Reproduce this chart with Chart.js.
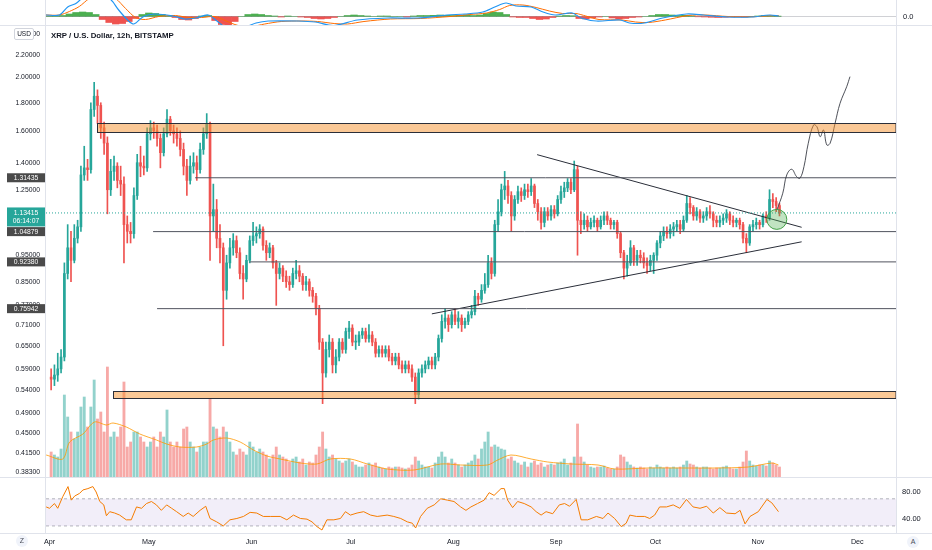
<!DOCTYPE html>
<html>
<head>
<meta charset="utf-8">
<title>XRP / U.S. Dollar, 12h, BITSTAMP</title>
<script src="https://cdn.jsdelivr.net/npm/chart.js@4.4.1/dist/chart.umd.min.js"></script>
<style>
  html, body { margin: 0; padding: 0; background: #fff; }
  body { width: 932px; height: 550px; position: relative; overflow: hidden;
         font-family: 'Liberation Sans', Arial, sans-serif; color: #131722; }
  canvas { position: absolute; left: 0; }
  #macd { top: 0; }
  #price { top: 26px; }
  #rsi { top: 477px; }
  .hline { position: absolute; left: 0; width: 932px; height: 1px; background: #e0e3eb; }
  .vline { position: absolute; top: 0; width: 1px; height: 533px; background: #e0e3eb; }
  .title { position: absolute; left: 51px; top: 31px; font-size: 7.8px; font-weight: bold; white-space: nowrap; }
  .usd { position: absolute; left: 14px; top: 28px; width: 18px; height: 10px; background: #fff;
         border: 1px solid #d1d4dc; border-radius: 2px; font-size: 6.5px; line-height: 10px; text-align: center; }
  .icon { position: absolute; width: 12px; height: 12px; border-radius: 50%; background: #f0f3fa;
          color: #4a4e59; font-size: 7px; line-height: 12px; text-align: center; }
</style>
</head>
<body>
<canvas id="macd" width="932" height="25"></canvas>
<canvas id="price" width="932" height="451"></canvas>
<canvas id="rsi" width="932" height="73"></canvas>
<div class="hline" style="top:25px"></div>
<div class="hline" style="top:477px"></div>
<div class="hline" style="top:533px"></div>
<div class="vline" style="left:45px"></div>
<div class="vline" style="left:896px"></div>
<div class="title">XRP / U.S. Dollar, 12h, BITSTAMP</div>
<div class="usd">USD</div>
<div class="icon" style="left:16px;top:535px">Z</div>
<div class="icon" style="left:907px;top:536px">A</div>
<script>
// daily candles, Apr 1 (day 0) .. Nov 7 (day 220)
const opens = [
  0.57,0.565,0.575,0.59,0.62,0.88,0.98,0.93,1.02,1.07, 1.33,1.37,1.36,1.75,1.85,1.78,1.62,1.52,1.25,1.35, 1.38,1.30,1.28,1.08,1.05,1.04,1.22,1.40,1.38,1.37,
  1.58,1.62,1.60,1.55,1.46,1.58,1.68,1.60,1.58,1.55, 1.48,1.38,1.30,1.38,1.40,1.36,1.48,1.58,1.65,1.12, 1.15,1.02,0.98,0.82,0.92,0.98,1.01,0.96,0.88,0.86, 0.93,
  1.01,1.03,1.04,1.06,0.99,0.96,0.98,0.92,0.88,0.90, 0.87,0.85,0.84,0.88,0.89,0.87,0.84,0.85,0.82,0.80, 0.76,0.66,0.58,0.64,0.66,0.60,0.62,0.66,0.64,0.69,
  0.70,0.66,0.66,0.68,0.69,0.67,0.68,0.66,0.63,0.64, 0.63,0.64,0.62,0.61,0.62,0.60,0.59,0.60,0.59,0.57, 0.53,0.58,0.59,0.60,0.61,0.60,0.62,0.67,0.72,0.73, 0.71,
  0.74,0.72,0.73,0.71,0.72,0.74,0.75,0.80,0.79,0.82, 0.84,0.92,0.88,1.08,1.14,1.25,1.27,1.22,1.12,1.20, 1.24,1.22,1.25,1.24,1.27,1.18,1.14,1.09,1.14,1.12, 1.15,
  1.13,1.20,1.24,1.26,1.29,1.25,1.36,1.10,1.08,1.10, 1.07,1.09,1.10,1.07,1.10,1.12,1.10,1.08,1.09,1.04, 0.96,0.90,0.92,0.98,0.93,0.95,0.94,0.92,0.91,0.93,
  0.95,1.00,1.03,1.05,1.04,1.06,1.07,1.08,1.06,1.10, 1.18,1.16,1.12,1.14,1.11,1.12,1.14,1.13,1.10,1.09, 1.10,1.11,1.13,1.10,1.09,1.10,1.08,1.02,1.00,1.07, 1.08,
  1.09,1.08,1.12,1.11,1.20,1.19,1.17
];
const highs = [
  0.59,0.60,0.63,0.64,0.92,1.08,1.05,1.08,1.10,1.38, 1.50,1.42,1.80,1.96,1.90,1.80,1.66,1.56,1.42,1.44, 1.40,1.38,1.32,1.12,1.09,1.26,1.45,1.50,1.44,1.62,
  1.67,1.66,1.64,1.58,1.62,1.75,1.70,1.64,1.62,1.60, 1.52,1.42,1.44,1.46,1.44,1.52,1.62,1.72,1.66,1.28, 1.20,1.08,1.00,0.95,1.02,1.04,1.03,0.98,0.91,0.95, 1.03,
  1.09,1.07,1.08,1.07,1.01,1.00,0.99,0.93,0.92,0.91, 0.89,0.87,0.90,0.93,0.91,0.88,0.87,0.86,0.83,0.81, 0.77,0.67,0.66,0.68,0.67,0.64,0.67,0.67,0.70,0.72,
  0.71,0.68,0.69,0.70,0.70,0.71,0.69,0.67,0.65,0.65, 0.65,0.65,0.63,0.63,0.63,0.61,0.61,0.61,0.60,0.58, 0.59,0.60,0.61,0.62,0.62,0.63,0.68,0.74,0.76,0.74, 0.75,
  0.76,0.75,0.74,0.73,0.75,0.77,0.82,0.81,0.84,0.88, 0.95,0.94,1.10,1.20,1.28,1.35,1.30,1.24,1.22,1.27, 1.26,1.28,1.28,1.31,1.28,1.20,1.16,1.16,1.16,1.17, 1.17,
  1.22,1.27,1.29,1.31,1.31,1.41,1.38,1.14,1.13,1.12, 1.11,1.12,1.11,1.12,1.14,1.14,1.11,1.10,1.10,1.05, 0.97,0.95,1.01,0.99,0.97,0.97,0.96,0.94,0.95,0.96,
  1.01,1.05,1.07,1.07,1.08,1.09,1.10,1.10,1.12,1.22, 1.21,1.17,1.16,1.15,1.14,1.16,1.17,1.14,1.12,1.12, 1.13,1.15,1.14,1.12,1.11,1.11,1.09,1.04,1.08,1.10, 1.11,
  1.10,1.13,1.14,1.25,1.23,1.21,1.18
];
const lows = [
  0.54,0.55,0.56,0.58,0.61,0.86,0.85,0.92,1.00,1.05, 1.30,1.30,1.34,1.70,1.65,1.55,1.45,1.13,1.22,1.30, 1.26,1.22,0.92,1.00,1.00,1.02,1.20,1.32,1.33,1.35,
  1.54,1.55,1.50,1.37,1.44,1.56,1.57,1.52,1.50,1.44, 1.33,1.22,1.28,1.34,1.30,1.34,1.45,1.55,0.93,1.05, 0.98,0.92,0.65,0.79,0.90,0.95,0.94,0.86,0.79,0.85, 0.92,
  0.99,1.00,1.02,0.97,0.93,0.94,0.90,0.77,0.86,0.85, 0.83,0.82,0.83,0.86,0.85,0.82,0.82,0.80,0.78,0.74, 0.64,0.51,0.57,0.62,0.58,0.58,0.61,0.63,0.63,0.67,
  0.65,0.64,0.65,0.67,0.66,0.66,0.65,0.62,0.62,0.62, 0.62,0.61,0.60,0.60,0.59,0.58,0.58,0.58,0.56,0.51, 0.52,0.57,0.58,0.59,0.59,0.59,0.61,0.66,0.70,0.69, 0.70,
  0.71,0.70,0.69,0.70,0.71,0.73,0.74,0.77,0.78,0.81, 0.83,0.86,0.87,1.05,1.12,1.20,1.18,1.05,1.10,1.18, 1.19,1.20,1.21,1.22,1.16,1.10,1.06,1.07,1.10,1.10, 1.11,
  1.12,1.18,1.21,1.24,1.23,1.24,0.95,1.04,1.06,1.05, 1.06,1.07,1.05,1.06,1.08,1.08,1.06,1.06,1.02,0.94, 0.86,0.87,0.91,0.91,0.91,0.92,0.90,0.88,0.89,0.88,
  0.93,0.98,1.01,1.02,1.02,1.03,1.05,1.04,1.05,1.09, 1.13,1.10,1.10,1.09,1.09,1.10,1.11,1.07,1.07,1.07, 1.08,1.09,1.08,1.07,1.07,1.06,1.00,0.96,0.99,1.05, 1.06,
  1.06,1.07,1.09,1.10,1.16,1.14,1.12
];
const closes = [
  0.565,0.575,0.59,0.62,0.88,0.98,0.93,1.02,1.07,1.33, 1.37,1.36,1.75,1.85,1.78,1.62,1.52,1.25,1.35,1.38, 1.30,1.28,1.08,1.05,1.04,1.22,1.40,1.38,1.37,1.58,
  1.62,1.60,1.55,1.46,1.58,1.68,1.60,1.58,1.55,1.48, 1.38,1.30,1.38,1.40,1.36,1.48,1.58,1.65,1.12,1.15, 1.02,0.98,0.82,0.92,0.98,1.01,0.96,0.88,0.86,0.93, 1.01,
  1.03,1.04,1.06,0.99,0.96,0.98,0.92,0.88,0.90,0.87, 0.85,0.84,0.88,0.89,0.87,0.84,0.85,0.82,0.80,0.76, 0.66,0.58,0.64,0.66,0.60,0.62,0.66,0.64,0.69,0.70,
  0.66,0.66,0.68,0.69,0.67,0.68,0.66,0.63,0.64,0.63, 0.64,0.62,0.61,0.62,0.60,0.59,0.60,0.59,0.57,0.53, 0.58,0.59,0.60,0.61,0.60,0.62,0.67,0.72,0.73,0.71, 0.74,
  0.72,0.73,0.71,0.72,0.74,0.75,0.80,0.79,0.82,0.84, 0.92,0.88,1.08,1.14,1.25,1.27,1.22,1.12,1.20,1.24, 1.22,1.25,1.24,1.27,1.18,1.14,1.09,1.14,1.12,1.15, 1.13,
  1.20,1.24,1.26,1.29,1.25,1.36,1.10,1.08,1.10,1.07, 1.09,1.10,1.07,1.10,1.12,1.10,1.08,1.09,1.04,0.96, 0.90,0.92,0.98,0.93,0.95,0.94,0.92,0.91,0.93,0.95,
  1.00,1.03,1.05,1.04,1.06,1.07,1.08,1.06,1.10,1.18, 1.16,1.12,1.14,1.11,1.12,1.14,1.13,1.10,1.09,1.10, 1.11,1.13,1.10,1.09,1.10,1.08,1.02,1.00,1.07,1.08, 1.09,
  1.08,1.12,1.11,1.20,1.19,1.17,1.13415
];
const volumes = [
  25,22,20,28,82,60,45,38,45,70, 80,50,70,97,58,65,45,110,40,45, 40,50,95,30,35,45,45,40,35,30,
  35,40,30,45,40,67,35,30,35,30, 48,50,35,30,25,30,35,35,78,50, 48,40,50,45,35,25,22,28,25,22, 35,
  30,25,28,25,22,18,22,30,22,20, 18,15,18,20,15,18,12,15,14,22, 30,45,28,20,22,18,16,14,16,18,
  15,12,10,10,12,14,12,14,10,9, 8,10,9,10,10,9,8,9,12,20, 16,12,10,10,9,14,20,25,20,14, 18,
  14,12,10,12,14,16,22,18,28,35, 45,30,32,30,28,27,18,20,16,14, 12,15,10,14,16,12,14,10,12,13, 12,
  14,15,18,12,14,20,53,20,15,12, 10,9,10,10,11,9,8,8,10,22, 20,15,12,10,9,10,9,8,10,9,
  12,10,9,10,9,10,9,10,12,16, 13,12,10,9,10,10,9,8,9,9, 10,11,9,8,8,10,15,26,16,12, 11,
  12,12,11,16,14,12,10
];
const volMaDays = [-1,4,6.1,10.1,13.6,17.2,19.2,23.2,27.3,32.3,35.4,39.4,44.4,47.5,49.5,53.5,57.6,61.6,65.7,69.7,75.8,80.8,84.8,90.9,96,102,110.1,118.2,124.2,132.3,135.4,139.4,145.5,150.5,157.6,165.7,170.7,180.8,190.9,201,211.1,218.2,220.2];
const volMaValues = [22,18,35,43,55,52,54,50,43,37,33,30,30,33,37,39,35,27,21,18,14,13,18,18,13,8,7,13,12,12,17,22,18,15,13,12,8,9,9,9,10,14,12];

// RSI(14)
const rsiDays = [-1,0,1.5,2.5,4.0,5.6,6.6,7.6,9.1,10.1, 11.6,13.1,14.1,15.2,16.4,17.2,18.2,19.7,21.2,23.2,
  24.7,26.3,27.8,29.3,30.8,32.3,33.8,35.4,36.9,38.4, 40.4,41.9,43.4,45.5,47.2,48.5,50.5,52.5,54.5,56.6,
  58.6,60.6,62.6,64.6,66.7,69.7,71.7,73.7,75.8,77.8, 79.3,80.8,82.3,83.8,85.9,87.9,89.4,90.9,92.9,94.9,
  97.0,99.0,102.0,104.0,106.1,108.1,109.6,110.6,112.1,114.1, 116.2,118.2,120.2,122.2,124.2,125.8,127.3,129.3,131.3,132.8,
  134.3,136.4,137.4,138.4,139.9,141.4,143.4,145.5,147.0,148.5, 150.0,152.0,154.0,155.6,157.1,159.1,160.6,162.6,165.2,167.2,
  168.7,170.7,172.7,174.2,175.3,177.3,179.8,181.3,182.8,184.3, 186.4,188.4,190.4,192.4,194.4,196.5,198.5,200.5,202.5,204.5,
  207.1,208.6,210.1,211.6,214.1,216.7,218.2,220.2];
const rsiValues = [58,56,63,56,73,88,68,74,78,83, 85,88,80,66,61,45,51,49,46,39,
  39,58,56,63,66,61,53,61,56,51, 44,49,44,53,59,41,36,30,39,41,
  44,50,49,44,44,44,39,46,41,40, 36,29,24,39,39,41,51,46,49,51,
  46,44,46,44,41,36,34,27,44,56, 61,70,68,66,58,53,58,63,68,79,
  75,85,85,68,57,66,63,58,51,46, 51,48,61,63,59,69,39,39,44,41,
  49,41,29,34,46,44,44,41,46,58, 58,61,56,69,58,56,59,49,57,49,
  48,53,33,44,51,69,64,51];
const rsiBand = [70, 30];
const rsiTicks = [80, 40];

// MACD (12, 26, 9), histogram read every 2 days
const macdDays = [-1.05,3.0,5.5,8.2,10.9,14.5,17.6,19.1,20.9,23.6, 25.5,28.2,31.8,37.3,40.9,44.2,47.9,50.6,53.3,57.6,
  62.4,66.1,75.2,80.3,85.8,93.0,102.1,111.2,120.0,125.5, 130.9,134.5,137.9,140.9,145.5,149.1,152.7,157.9,160.6,165.2,
  172.4,175.2,179.7,185.2,192.4,197.6,204.8,212.1,217.6,220.3];
const macdValues = [0.015,0.015,0.095,0.135,0.22,0.30,0.20,0.148,0.065,-0.035, -0.075,-0.005,0.025,0.005,-0.025,-0.015,0.015,-0.045,-0.11,-0.12,
  -0.065,-0.045,-0.045,-0.055,-0.09,-0.035,-0.015,-0.015,0.015,0.025, 0.045,0.095,0.135,0.105,0.095,0.045,0.015,0.035,-0.015,-0.045,
  -0.035,-0.065,-0.065,-0.015,0.025,0.015,-0.005,-0.005,0.015,0.005];
const signalDays = [-1.05,3,6,9,12,16,20,23,26,29, 33,38,42,46,50,53,57,61,65,70,
  76,81,86,90,95,103,112,121,127,132, 136,139,143,147,151,155,159,162,166,173,
  177,181,186,193,198,205,212,218,220.3];
const signalValues = [0.015,0.015,0.05,0.10,0.18,0.25,0.18,0.08,-0.01,-0.03, 0.0,0.01,-0.01,-0.01,0.0,-0.04,-0.09,-0.10,-0.075,-0.05,
  -0.045,-0.05,-0.07,-0.075,-0.05,-0.025,-0.02,0.0,0.02,0.035, 0.07,0.11,0.115,0.09,0.055,0.03,0.03,0.005,-0.03,-0.035,
  -0.055,-0.06,-0.035,0.01,0.015,0.0,-0.003,0.008,0.008];
const histValues = [
  0.003,0.005,0.01,0.025,0.04,0.045,0.04,0.02,-0.03,-0.06,
  -0.075,-0.07,-0.05,-0.02,0.02,0.035,0.03,0.02,0.005,-0.01,
  -0.03,-0.035,-0.02,0.005,0.01,-0.04,-0.08,-0.09,-0.05,0.0,
  0.02,0.025,0.02,0.01,0.005,-0.005,0.005,0.0,-0.005,-0.01,
  -0.02,-0.025,-0.02,-0.01,0.0,0.01,0.015,0.01,0.005,0.0,
  0.005,0.005,0.0,0.0,-0.005,0.005,0.01,0.01,0.012,0.015,
  0.012,0.01,0.012,0.015,0.01,0.015,0.03,0.045,0.04,0.02,
  -0.005,-0.01,-0.01,-0.02,-0.03,-0.025,-0.01,0.005,0.01,0.008,
  -0.02,-0.025,-0.015,-0.005,0.0,-0.015,-0.025,-0.02,-0.01,-0.005,
  0.0,0.01,0.02,0.02,0.015,0.01,0.012,0.005,-0.003,-0.005,
  -0.008,-0.01,-0.008,-0.005,-0.004,-0.006,0.002,0.005,0.01,0.008,
  0.004
];
const histStepDays = 2;

// axis labels
const monthStarts = [0, 30, 61, 91, 122, 153, 183, 214, 244];
const monthNames = ['Apr', 'May', 'Jun', 'Jul', 'Aug', 'Sep', 'Oct', 'Nov', 'Dec'];
const priceTicks = [2.4, 2.2, 2.0, 1.8, 1.6, 1.4, 1.25, 0.95, 0.85, 0.77, 0.71, 0.65, 0.59, 0.54, 0.49, 0.45, 0.415, 0.383];
const countdown = '06:14:07';

// drawings on the chart
const levelValues = [1.31435, 1.04879, 0.92380, 0.75942];
const levelStarts = [44.0, 31.3, 60.6, 32.5];
const zoneStarts = [14.4, 19.2];
const zoneHighs = [1.655, 0.538];
const zoneLows = [1.595, 0.522];
const trendDays = [[147.3, 227.2], [115.5, 227.2]];
const trendPrices = [[1.448, 1.068], [0.743, 1.005]];
const pathDays = [219.7, 221.5, 222.7, 224.2, 225.7, 226.7, 227.9, 229.2, 230.8, 231.8, 232.8, 233.8, 234.8, 235.8, 237.3, 238.8, 240.8, 241.8];
const pathPrices = [1.148, 1.232, 1.330, 1.362, 1.320, 1.312, 1.377, 1.519, 1.640, 1.628, 1.561, 1.606, 1.508, 1.519, 1.652, 1.796, 1.925, 2.008];
const markerDay = 219.7;
const markerPrice = 1.104;

const X_MIN = -1.05, X_MAX = 255.7;
const P_MIN = 0.375, P_MAX = 2.483;
const UP = '#26a69a', DOWN = '#ef5350';
const FONT = "'Liberation Sans', Arial, sans-serif";

Chart.defaults.font.family = FONT;
Chart.defaults.color = '#131722';
Chart.defaults.animation = false;

const lastPrice = closes[closes.length - 1];
const candleColors = closes.map((c, i) => c >= opens[i] ? UP : DOWN);
const volColors = closes.map((c, i) => c >= opens[i] ? 'rgba(38,166,154,0.5)' : 'rgba(239,83,80,0.5)');
const noPlugins = { legend: { display: false }, tooltip: { enabled: false } };
const noGrid = { display: false, drawTicks: false };

function flatLine(a, b, y) {
  return [{ x: a, y }, { x: b, y }];
}

// keep tick labels from pushing the plot area inwards
function fixedSide(width) {
  return s => { s.width = width; s.paddingTop = 0; s.paddingBottom = 0; };
}

const priceDecor = {
  id: 'priceDecor',
  afterDatasetsDraw(chart) {
    const { ctx, chartArea } = chart;
    const { x, y } = chart.scales;
    ctx.save();
    zoneStarts.forEach((start, i) => {
      const x0 = Math.round(x.getPixelForValue(start)) + 0.5;
      const y0 = Math.round(y.getPixelForValue(zoneHighs[i])) + 0.5;
      const y1 = Math.round(y.getPixelForValue(zoneLows[i])) + 0.5;
      const w = chartArea.right - x0;
      ctx.fillStyle = 'rgba(245,145,45,0.5)';
      ctx.fillRect(x0, y0, w, y1 - y0);
      ctx.strokeStyle = '#2a2e39';
      ctx.lineWidth = 1;
      ctx.strokeRect(x0, y0, w, y1 - y0);
    });
    ctx.restore();
  },
  afterDraw(chart) {
    const { ctx } = chart;
    const y = chart.scales.y;
    ctx.save();
    ctx.font = '6.8px ' + FONT;
    ctx.textAlign = 'center';
    ctx.textBaseline = 'middle';
    levelValues.forEach(v => {
      const py = y.getPixelForValue(v);
      ctx.fillStyle = '#4a4a4a';
      ctx.fillRect(7, py - 4.5, 38, 9);
      ctx.fillStyle = '#fff';
      ctx.fillText(v.toFixed(5), 26, py + 0.5);
    });
    const py = y.getPixelForValue(lastPrice);
    ctx.fillStyle = UP;
    ctx.fillRect(7, py - 5.5, 38, 19);
    ctx.fillStyle = '#fff';
    ctx.fillText(lastPrice.toFixed(5), 26, py);
    ctx.fillText(countdown, 26, py + 8.5);
    ctx.restore();
  }
};

// main price pane with volume overlay
new Chart(document.getElementById('price'), {
  type: 'bar',
  data: {
    datasets: [
      { type: 'bar', yAxisID: 'yVol', order: 10, grouped: false, barThickness: 2.2,
        data: volumes.map((v, i) => ({ x: i + 0.5, y: v })), backgroundColor: volColors },
      { type: 'line', yAxisID: 'yVol', order: 9, data: volMaDays.map((d, i) => ({ x: d, y: volMaValues[i] })),
        borderColor: 'rgba(255,152,0,0.8)', borderWidth: 1, pointRadius: 0, tension: 0.3 },
      { type: 'bar', order: 6, grouped: false, barThickness: 1,
        data: highs.map((h, i) => ({ x: i + 0.5, y: [lows[i], h] })), backgroundColor: candleColors },
      { type: 'bar', order: 5, grouped: false, barThickness: 2, minBarLength: 1,
        data: opens.map((o, i) => ({ x: i + 0.5, y: [o, closes[i]] })), backgroundColor: candleColors },
      ...levelValues.map((v, i) => ({ type: 'line', order: 3, data: flatLine(levelStarts[i], X_MAX, v),
        borderColor: '#50535e', borderWidth: 1, pointRadius: 0 })),
      ...trendDays.map((ds, i) => ({ type: 'line', order: 3,
        data: ds.map((d, k) => ({ x: d, y: trendPrices[i][k] })),
        borderColor: '#2a2e39', borderWidth: 1, pointRadius: 0 })),
      { type: 'line', order: 2, data: pathDays.map((d, i) => ({ x: d, y: pathPrices[i] })),
        borderColor: '#3a3d46', borderWidth: 0.9, pointRadius: 0, tension: 0.4 },
      { type: 'line', order: 2, data: flatLine(X_MIN, X_MAX, lastPrice),
        borderColor: UP, borderWidth: 1, borderDash: [1, 2], pointRadius: 0 },
      { type: 'line', order: 1, showLine: false, data: [{ x: markerDay, y: markerPrice }],
        pointRadius: 10, pointBackgroundColor: 'rgba(76,175,80,0.35)', pointBorderColor: '#43a047', pointBorderWidth: 1 }
    ]
  },
  options: {
    responsive: false,
    layout: { autoPadding: false, padding: { left: 0, right: 36, top: 0, bottom: 0 } },
    plugins: noPlugins,
    scales: {
      x: { type: 'linear', min: X_MIN, max: X_MAX, offset: false, display: false },
      y: {
        type: 'logarithmic', position: 'left', min: P_MIN, max: P_MAX,
        grid: noGrid, border: { display: false },
        afterFit: fixedSide(46),
        afterBuildTicks: s => { s.ticks = priceTicks.map(v => ({ value: v })); },
        ticks: { autoSkip: false, padding: 6, font: { size: 6.8 }, callback: v => Number(v).toFixed(5) }
      },
      yVol: { type: 'linear', display: false, min: 0, max: 451 }
    }
  },
  plugins: [priceDecor]
});

// MACD pane (top, cropped)
new Chart(document.getElementById('macd'), {
  type: 'line',
  data: {
    datasets: [
      { type: 'bar', order: 5, barPercentage: 1, categoryPercentage: 1,
        data: histValues.map((v, i) => ({ x: i * histStepDays, y: v })),
        backgroundColor: histValues.map(v => v >= 0 ? '#4caf50' : '#ef5350') },
      { type: 'line', order: 4, data: flatLine(X_MIN, X_MAX, 0),
        borderColor: 'rgba(120,123,134,0.35)', borderWidth: 1, pointRadius: 0 },
      { type: 'line', order: 2, data: signalDays.map((d, i) => ({ x: d, y: signalValues[i] })),
        borderColor: '#ff6d00', borderWidth: 1, pointRadius: 0, tension: 0.3 },
      { type: 'line', order: 1, data: macdDays.map((d, i) => ({ x: d, y: macdValues[i] })),
        borderColor: '#2196f3', borderWidth: 1.2, pointRadius: 0, tension: 0.3 }
    ]
  },
  options: {
    responsive: false,
    layout: { autoPadding: false, padding: { left: 46, right: 0, top: 0, bottom: 0 } },
    plugins: noPlugins,
    scales: {
      x: { type: 'linear', min: X_MIN, max: X_MAX, offset: false, display: false },
      y: {
        type: 'linear', position: 'right', min: -0.085, max: 0.165,
        grid: noGrid, border: { display: false },
        afterFit: fixedSide(36),
        afterBuildTicks: s => { s.ticks = [{ value: 0 }]; },
        ticks: { padding: 7, font: { size: 7.5 }, callback: () => '0.0' }
      }
    }
  }
});

// RSI pane with the time axis
new Chart(document.getElementById('rsi'), {
  type: 'line',
  data: {
    datasets: [
      { order: 3, data: flatLine(X_MIN, X_MAX, rsiBand[0]), borderColor: 'rgba(120,123,134,0.55)',
        borderDash: [3, 3], borderWidth: 1, pointRadius: 0, fill: '+1', backgroundColor: 'rgba(126,87,194,0.1)' },
      { order: 3, data: flatLine(X_MIN, X_MAX, rsiBand[1]), borderColor: 'rgba(120,123,134,0.55)',
        borderDash: [3, 3], borderWidth: 1, pointRadius: 0, fill: false },
      { order: 1, data: rsiDays.map((d, i) => ({ x: d, y: rsiValues[i] })),
        borderColor: '#f57c00', borderWidth: 1, pointRadius: 0, fill: false }
    ]
  },
  options: {
    responsive: false,
    layout: { autoPadding: false, padding: { left: 46, right: 0, top: 0, bottom: 0 } },
    plugins: noPlugins,
    scales: {
      x: {
        type: 'linear', min: X_MIN, max: X_MAX, offset: false,
        grid: noGrid, border: { display: false },
        afterFit: s => { s.height = 17; s.paddingLeft = 0; s.paddingRight = 0; },
        afterBuildTicks: s => { s.ticks = monthStarts.map(v => ({ value: v })); },
        ticks: { autoSkip: false, maxRotation: 0, padding: 4.5, font: { size: 7.2 },
          callback: v => monthNames[monthStarts.indexOf(v)] }
      },
      y: {
        position: 'right', min: 19.6, max: 102.1,
        grid: noGrid, border: { display: false },
        afterFit: fixedSide(36),
        afterBuildTicks: s => { s.ticks = rsiTicks.map(v => ({ value: v })); },
        ticks: { padding: 6, font: { size: 7.5 }, callback: v => Number(v).toFixed(2) }
      }
    }
  }
});
</script>
</body>
</html>
